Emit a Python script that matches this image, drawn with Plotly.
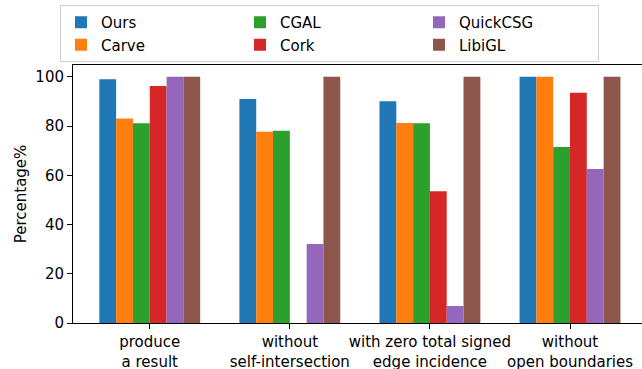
import plotly.graph_objects as go

categories = ["produce<br>a result", "without<br>self-intersection",
              "with zero total signed<br>edge incidence", "without<br>open boundaries"]
methods = ["Ours", "Carve", "CGAL", "Cork", "QuickCSG", "LibiGL"]
ours = [99.0, 91.0, 90.1, 100.0]
carve = [83.1, 77.7, 81.2, 100.0]
cgal = [81.1, 78.1, 81.1, 71.5]
cork = [96.3, 0.0, 53.5, 93.5]
quickcsg = [100.0, 32.1, 6.9, 62.6]
libigl = [100.0, 100.0, 100.0, 100.0]
series = [ours, carve, cgal, cork, quickcsg, libigl]
colors = ["#1f77b4", "#ff7f0e", "#2ca02c", "#d62728", "#9467bd", "#8c564b"]
legend_ranks = [1, 4, 2, 5, 3, 6]

W, H = 642, 369
FONT = "DejaVu Sans"

fig = go.Figure()
x_pos = list(range(len(categories)))
bw = 0.12
for i, (name, vals) in enumerate(zip(methods, series)):
    fig.add_trace(go.Bar(
        x=x_pos, y=vals, name=name,
        width=bw, offset=-0.36 + i * bw,
        marker=dict(color=colors[i], line=dict(width=0)),
        legendrank=legend_ranks[i],
    ))

fig.update_layout(
    width=W, height=H,
    margin=dict(l=73, r=0, t=65, b=46, pad=0, autoexpand=False),
    paper_bgcolor="white", plot_bgcolor="white",
    font=dict(family=FONT, size=15, color="black"),
    barmode="overlay",
    showlegend=True,
    legend=dict(
        orientation="h", x=60 / W, y=1 - 5 / H, xanchor="left", yanchor="top",
        xref="container", yref="container",
        entrywidth=134, entrywidthmode="pixels",
        bgcolor="white", bordercolor="#d0d0d0", borderwidth=1,
        font=dict(family=FONT, size=15, color="black"),
        traceorder="normal",
    ),
    xaxis=dict(
        range=[-0.548, 3.514], automargin=False, tickangle=0,
        tickmode="array", tickvals=x_pos, ticktext=categories,
        ticks="outside", ticklen=5, tickwidth=1, tickcolor="black",
        showline=True, linecolor="black", linewidth=1, mirror=True,
        showgrid=False, zeroline=False,
        tickfont=dict(family=FONT, size=15, color="black"),
    ),
    yaxis=dict(
        range=[0, 104.8], automargin=False,
        tickmode="array", tickvals=[0, 20, 40, 60, 80, 100],
        ticks="outside", ticklen=5, tickwidth=1, tickcolor="black",
        showline=True, linecolor="black", linewidth=1, mirror=False,
        showgrid=False, zeroline=False,
        title=dict(text="Percentage%", font=dict(family=FONT, size=15, color="black"), standoff=5),
        tickfont=dict(family=FONT, size=15, color="black"),
    ),
)

fig.write_html("out.html", config={"displayModeBar": False})
with open("out.html", "r", encoding="utf-8") as f:
    html = f.read()
html = html.replace("<head>", "<head><style>html,body{margin:0;padding:0;overflow:hidden;}</style>", 1)
with open("out.html", "w", encoding="utf-8") as f:
    f.write(html)
